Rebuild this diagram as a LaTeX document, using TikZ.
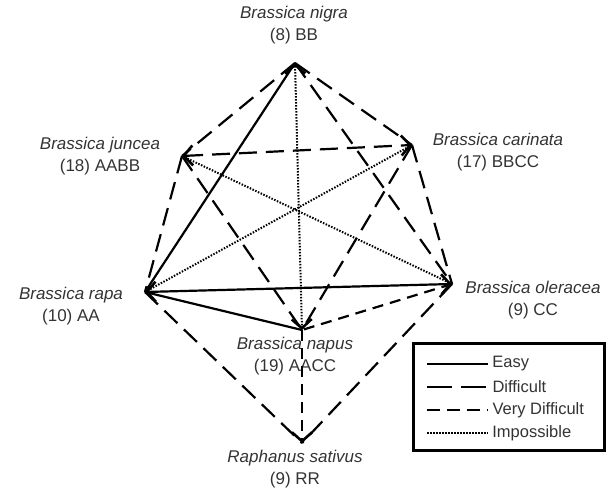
\documentclass[tikz,border=0pt]{standalone}
\usepackage{fontspec}
\setmainfont{Liberation Sans}
\usetikzlibrary{arrows.meta}

\begin{document}
\begin{tikzpicture}[x=1pt,y=-1pt,
    easy/.style={line width=2.2pt},
    difficult/.style={line width=2.2pt,dash pattern=on 18pt off 9pt},
    vdifficult/.style={line width=2.2pt,dash pattern=on 11pt off 7pt},
    impossible/.style={line width=2pt,dash pattern=on 1.5pt off 1.5pt},
    twoway/.style={{Straight Barb[length=9pt,width=20pt,line width=2.6pt]}-{Straight Barb[length=9pt,width=20pt,line width=2.6pt]}},
    oneway/.style={-{Straight Barb[length=9pt,width=20pt,line width=2.6pt]}},
    lbl/.style={align=center,text=black!80,font=\fontsize{17}{22}\selectfont}]
  \useasboundingbox (0,0) rectangle (608,489);
  % vertices of the diagram
  \coordinate (nigra) at (295,63);
  \coordinate (juncea) at (182,156);
  \coordinate (carinata) at (412,145);
  \coordinate (rapa) at (145,292);
  \coordinate (oleracea) at (452,284);
  \coordinate (napus) at (302,330);
  \coordinate (sativus) at (302,443);
  % species labels
  \node[lbl] (nigralbl) at (294,25) {\textit{Brassica nigra}\\(8) BB};
  \node[lbl] (juncealbl) at (100,156) {\textit{Brassica juncea}\\(18) AABB};
  \node[lbl] (carinatalbl) at (498,152) {\textit{Brassica carinata}\\(17) BBCC};
  \node[lbl] (rapalbl) at (71,306) {\textit{Brassica rapa}\\(10) AA};
  \node[lbl] (oleracealbl) at (533,300) {\textit{Brassica oleracea}\\(9) CC};
  \node[lbl] (napuslbl) at (295,356) {\textit{Brassica napus}\\(19) AACC};
  \node[lbl] (sativuslbl) at (295,469) {\textit{Raphanus sativus}\\(9) RR};
  % crosses
  \draw[easy] (nigra) -- (rapa);
  \draw[easy,twoway] (rapa) -- (oleracea);
  \draw[easy] (rapa) -- (napus);
  \draw[difficult] (nigra) -- (juncea);
  \draw[difficult] (nigra) -- (carinata);
  \draw[difficult] (nigra) -- (oleracea);
  \draw[difficult,twoway] (juncea) -- (carinata);
  \draw[difficult] (juncea) -- (rapa);
  \draw[difficult] (juncea) -- (napus);
  \draw[difficult] (carinata) -- (oleracea);
  \draw[difficult] (carinata) -- (napus);
  \draw[difficult] (rapa) -- (sativus);
  \draw[difficult] (oleracea) -- (sativus);
  \draw[vdifficult] (oleracea) -- (napus);
  \draw[vdifficult,oneway] (napus) -- (sativus);
  \draw[impossible,twoway] (nigra) -- (napus);
  \draw[impossible] (juncea) -- (oleracea);
  \draw[impossible] (rapa) -- (carinata);
  % legend
  \draw[line width=3pt] (413,343) rectangle (604,450);
  \draw[easy] (427,364) -- (488,364) node[lbl,right,font=\fontsize{16.5}{20}\selectfont] {Easy};
  \draw[line width=2.4pt,dash pattern=on 25pt off 9pt] (427,387) -- (488,387) node[lbl,right,font=\fontsize{16.5}{20}\selectfont] {Difficult};
  \draw[line width=2.4pt,dash pattern=on 13pt off 7pt] (427,410) -- (488,410) node[lbl,right,font=\fontsize{16.5}{20}\selectfont] {Very Difficult};
  \draw[impossible] (427,433) -- (488,433) node[lbl,right,font=\fontsize{16.5}{20}\selectfont] {Impossible};
\end{tikzpicture}
\end{document}
